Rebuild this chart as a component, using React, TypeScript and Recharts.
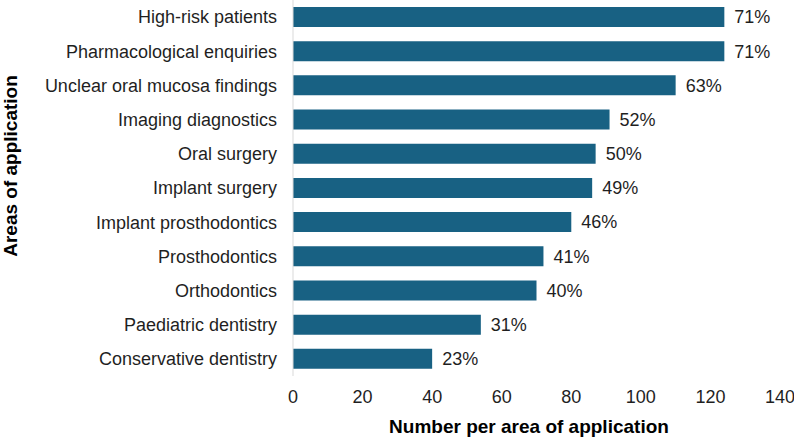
import { Bar, BarChart, LabelList, XAxis, YAxis, Customized } from "recharts"

const areas = [
  "High-risk patients",
  "Pharmacological enquiries",
  "Unclear oral mucosa findings",
  "Imaging diagnostics",
  "Oral surgery",
  "Implant surgery",
  "Implant prosthodontics",
  "Prosthodontics",
  "Orthodontics",
  "Paediatric dentistry",
  "Conservative dentistry",
]
const counts = [124, 124, 110, 91, 87, 86, 80, 72, 70, 54, 40]
const shares = ["71%", "71%", "63%", "52%", "50%", "49%", "46%", "41%", "40%", "31%", "23%"]
const X_TICKS = [0, 20, 40, 60, 80, 100, 120, 140]

const data = areas.map((name, i) => ({ name, count: counts[i], share: shares[i] }))

const FONT = "'Liberation Sans', Arial, sans-serif"
const TEXT = "#1f1f1f"
const BAR = "#186183"

function AxisTitles() {
  return (
    <g fontFamily={FONT} fontWeight="bold" fontSize={19} fill="#000">
      <text x={529} y={433} textAnchor="middle">Number per area of application</text>
      <text
        x={10}
        y={166}
        textAnchor="middle"
        dominantBaseline="central"
        transform="rotate(-90 10 166)"
      >
        Areas of application
      </text>
    </g>
  )
}

export default function App() {
  return (
    <div style={{ position: "fixed", left: 0, top: 0, background: "#fff" }}>
      <BarChart
        width={794}
        height={439}
        data={data}
        layout="vertical"
        margin={{ top: 0, right: 14, bottom: 33, left: 0 }}
        style={{ fontFamily: FONT }}
      >
        <XAxis
          type="number"
          domain={[0, 140]}
          ticks={X_TICKS}
          height={30}
          axisLine={false}
          tickLine={false}
          tickSize={0}
          tickMargin={14}
          tick={{ fill: TEXT, fontSize: 18, fontFamily: FONT }}
          interval={0}
        />
        <YAxis
          type="category"
          dataKey="name"
          width={293}
          axisLine={{ stroke: "#d9d9d9", strokeWidth: 1 }}
          tickLine={false}
          tickSize={0}
          tickMargin={16}
          tick={{ fill: TEXT, fontSize: 18, fontFamily: FONT }}
          interval={0}
        />
        <Bar dataKey="count" fill={BAR} barSize={20} isAnimationActive={false}>
          <LabelList
            dataKey="share"
            position="right"
            offset={10}
            fill={TEXT}
            fontSize={18}
            fontFamily={FONT}
          />
        </Bar>
        <Customized component={AxisTitles} />
      </BarChart>
    </div>
  )
}
